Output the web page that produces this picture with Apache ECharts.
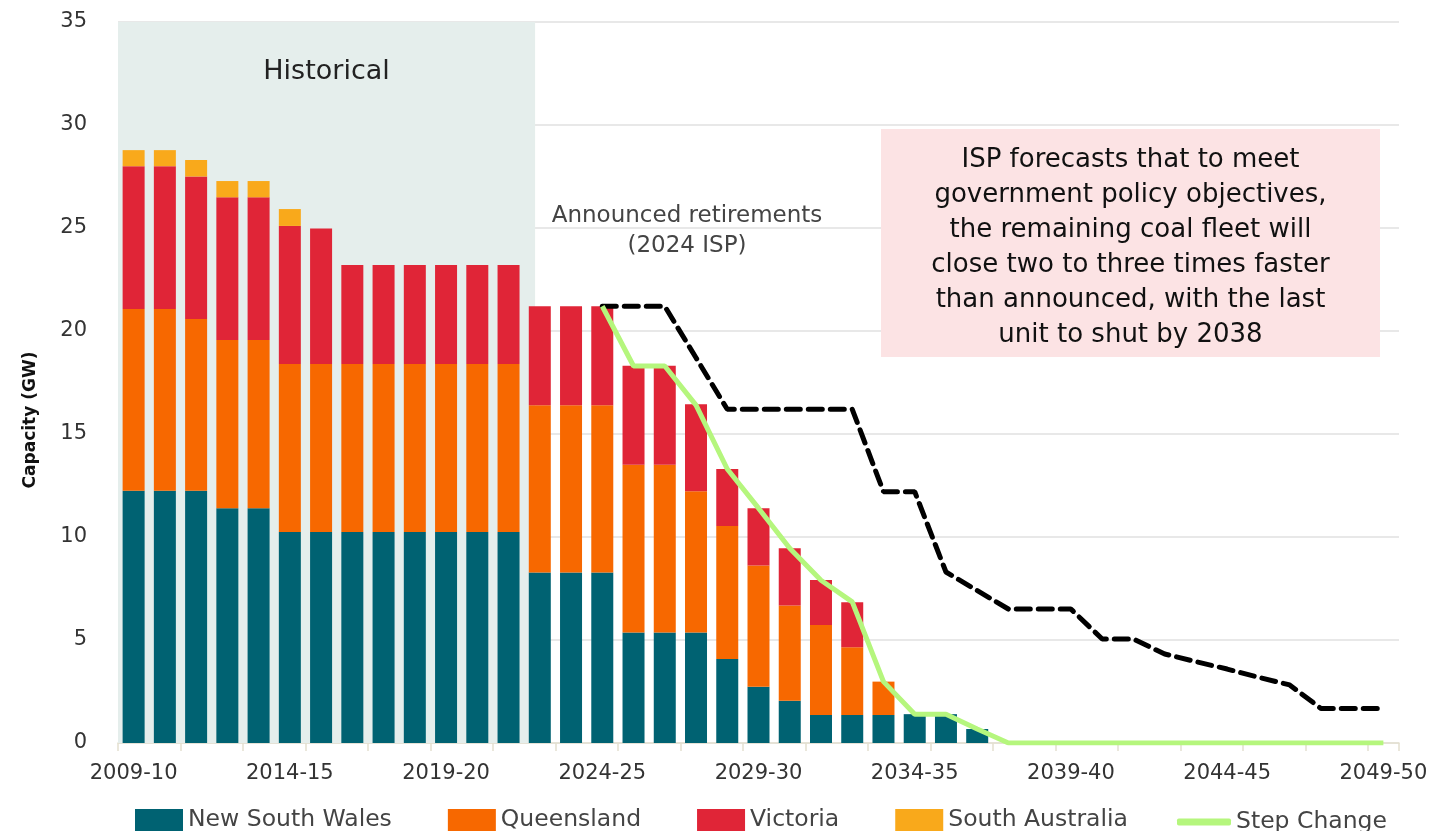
<!DOCTYPE html>
<html>
<head>
<meta charset="utf-8">
<title>Coal capacity</title>
<script src="https://cdn.jsdelivr.net/npm/echarts@6/dist/echarts.min.js"></script>
<style>
  html, body { margin: 0; padding: 0; background: #fff; }
  #chart { width: 1455px; height: 831px; }
</style>
</head>
<body>
<div id="chart"></div>
<script>
// financial years on the category axis
const years = [
  '2009-10', '2010-11', '2011-12', '2012-13', '2013-14', '2014-15', '2015-16', '2016-17',
  '2017-18', '2018-19', '2019-20', '2020-21', '2021-22', '2022-23', '2023-24', '2024-25',
  '2025-26', '2026-27', '2027-28', '2028-29', '2029-30', '2030-31', '2031-32', '2032-33',
  '2033-34', '2034-35', '2035-36', '2036-37', '2037-38', '2038-39', '2039-40', '2040-41',
  '2041-42', '2042-43', '2043-44', '2044-45', '2045-46', '2046-47', '2047-48', '2048-49',
  '2049-50'
]

// capacity by state, GW
const nsw = [12.25, 12.25, 12.25, 11.39, 11.39, 10.24, 10.24, 10.24, 10.24, 10.24, 10.24, 10.24, 10.24,
  8.28, 8.28, 8.28, 5.37, 5.37, 5.37, 4.08, 2.73, 2.05, 1.36, 1.36, 1.36, 1.4, 1.4, 0.68]
const qld = [8.82, 8.82, 8.33, 8.17, 8.17, 8.16, 8.16, 8.16, 8.16, 8.16, 8.16, 8.16, 8.16,
  8.12, 8.12, 8.12, 8.14, 8.14, 6.85, 6.45, 5.89, 4.63, 4.37, 3.29, 1.62, 0, 0, 0]
const vic = [6.93, 6.93, 6.92, 6.93, 6.93, 6.7, 6.57, 4.8, 4.8, 4.8, 4.8, 4.8, 4.8,
  4.8, 4.8, 4.8, 4.8, 4.8, 4.22, 2.77, 2.77, 2.77, 2.18, 2.18, 0, 0, 0, 0]
const sa = [0.78, 0.78, 0.8, 0.79, 0.79, 0.82, 0, 0, 0, 0, 0, 0, 0,
  0, 0, 0, 0, 0, 0, 0, 0, 0, 0, 0, 0, 0, 0, 0]

// announced retirements (2024 ISP) - dashed line
const announced = [null, null, null, null, null, null, null, null, null, null, null, null, null, null, null,
  21.2, 21.2, 21.2, 18.7, 16.2, 16.2, 16.2, 16.2, 16.2, 12.2, 12.2, 8.3, 7.4, 6.5, 6.5, 6.5,
  5.05, 5.05, 4.32, 3.95, 3.59, 3.19, 2.82, 1.68, 1.68, 1.68]

// step change
const stepChange = [null, null, null, null, null, null, null, null, null, null, null, null, null, null, null,
  21.2, 18.3, 18.3, 16.4, 13.3, 11.4, 9.45, 7.9, 6.85, 2.98, 1.4, 1.4, 0.68, 0, 0, 0,
  0, 0, 0, 0, 0, 0, 0, 0, 0, 0]

const yTicks = [0, 5, 10, 15, 20, 25, 30, 35]
const historicalSpan = [0, 13.35] // in category widths from the left edge

const font = 'DejaVu Sans'
const myChart = echarts.init(document.getElementById('chart'))

function barSeries(name, arr, color) {
  return {
    name: name,
    type: 'bar',
    stack: 'cap',
    barWidth: 22,
    data: arr,
    itemStyle: { color: color },
    z: 3
  }
}

const legendText = { fontSize: 23.5, color: '#444', fontFamily: font }

const option = {
  animation: false,
  textStyle: { fontFamily: font },
  grid: { left: 118, right: 56, top: 22, bottom: 88, containLabel: false },
  legend: [{
    left: 130,
    top: 803,
    itemWidth: 48,
    itemHeight: 22,
    itemGap: 56,
    icon: 'rect',
    textStyle: legendText,
    data: ['New South Wales', 'Queensland', 'Victoria', 'South Australia']
  }, {
    left: 1172,
    top: 803,
    itemWidth: 54,
    itemHeight: 7,
    padding: [7, 5, 5, 5],
    icon: 'roundRect',
    textStyle: legendText,
    data: ['Step Change']
  }],
  xAxis: [{
    type: 'category',
    data: years,
    axisLine: { lineStyle: { color: '#e3dfcf', width: 1.5 } },
    axisTick: { show: true, interval: 1, length: 8, lineStyle: { color: '#e3dfcf', width: 1.5 } },
    axisLabel: { interval: 4, color: '#333', fontSize: 21, margin: 20, fontFamily: font },
    splitLine: { show: false }
  }, {
    type: 'value',
    min: 0,
    max: years.length,
    show: false
  }],
  yAxis: {
    type: 'value',
    min: yTicks[0],
    max: yTicks[yTicks.length - 1],
    interval: 5,
    axisLine: { show: false },
    axisTick: { show: false },
    axisLabel: { color: '#333', fontSize: 21, margin: 31, fontFamily: font },
    splitLine: { lineStyle: { color: '#e8e8e8', width: 2 } }
  },
  graphic: [
    {
      type: 'text',
      rotation: Math.PI / 2,
      x: 31,
      y: 420,
      z: 100,
      style: {
        text: 'Capacity (GW)',
        font: 'bold 17px "DejaVu Sans"',
        fill: '#111',
        textAlign: 'center',
        textVerticalAlign: 'middle'
      }
    },
    {
      type: 'text',
      x: 687,
      y: 231,
      z: 100,
      style: {
        text: 'Announced retirements\n(2024 ISP)',
        font: '23px "DejaVu Sans"',
        fill: '#444',
        textAlign: 'center',
        textVerticalAlign: 'middle',
        lineHeight: 30
      }
    },
    {
      type: 'group',
      x: 881,
      y: 129,
      z: 100,
      children: [
        { type: 'rect', z: 100, shape: { x: 0, y: 0, width: 499, height: 228 }, style: { fill: '#fce3e4' } },
        {
          type: 'text',
          z: 101,
          x: 249.5,
          y: 119,
          style: {
            text: 'ISP forecasts that to meet\ngovernment policy objectives,\nthe remaining coal fleet will\nclose two to three times faster\nthan announced, with the last\nunit to shut by 2038',
            font: '26px "DejaVu Sans"',
            fill: '#111',
            textAlign: 'center',
            textVerticalAlign: 'middle',
            lineHeight: 35
          }
        }
      ]
    }
  ],
  series: [
    {
      name: 'historical',
      type: 'line',
      xAxisIndex: 1,
      data: [],
      silent: true,
      markArea: {
        silent: true,
        itemStyle: { color: '#e5eeec' },
        label: {
          show: true,
          position: 'insideTop',
          distance: 36,
          color: '#222',
          fontSize: 27,
          fontFamily: font
        },
        data: [[
          { name: 'Historical', xAxis: historicalSpan[0], yAxis: yTicks[0] },
          { xAxis: historicalSpan[1], yAxis: yTicks[yTicks.length - 1] }
        ]]
      },
      z: 0
    },
    barSeries('New South Wales', nsw, '#006272'),
    barSeries('Queensland', qld, '#f76800'),
    barSeries('Victoria', vic, '#e02537'),
    barSeries('South Australia', sa, '#f9a91b'),
    {
      name: 'Announced retirements (2024 ISP)',
      type: 'line',
      data: announced,
      symbol: 'none',
      lineStyle: { color: '#000', width: 5, type: [14, 8], cap: 'round' },
      z: 4
    },
    {
      name: 'Step Change',
      type: 'line',
      data: stepChange,
      symbol: 'none',
      color: '#b5f67d',
      itemStyle: { color: '#b5f67d' },
      lineStyle: { color: '#b5f67d', width: 5 },
      z: 5
    }
  ]
}

myChart.setOption(option, true)
</script>
</body>
</html>
